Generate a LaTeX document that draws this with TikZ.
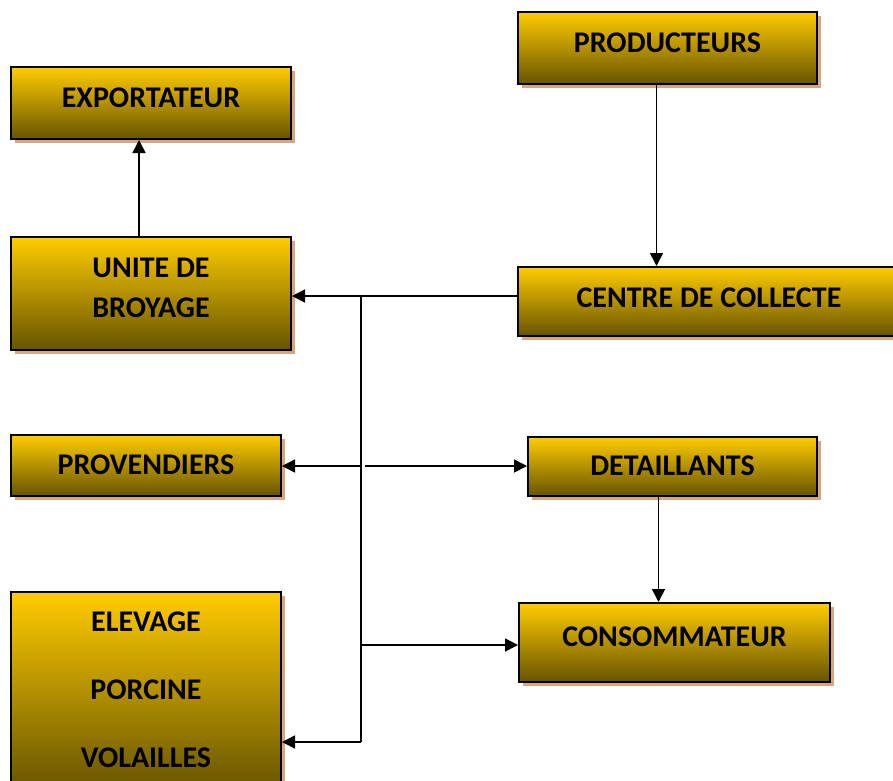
\documentclass[tikz,border=0pt]{standalone}
\usepackage{fontspec}
\setmainfont{Carlito}
\usepackage{tikz}
\usetikzlibrary{arrows.meta,shadows}

\definecolor{goldtop}{RGB}{255,204,0}
\definecolor{goldbot}{RGB}{102,84,0}
\definecolor{shadowtan}{RGB}{214,166,128}

\tikzset{
  box/.style={draw=black, line width=2pt, rectangle, align=center,
    top color=goldtop, bottom color=goldbot,
    font=\fontsize{30}{40}\selectfont\bfseries, inner sep=0pt, text depth=11pt,
    drop shadow={shadow xshift=4pt, shadow yshift=-4pt, opacity=1, fill=shadowtan}},
  arr/.style={line width=1.5pt, -{Triangle[length=13pt,width=13pt]}},
  link/.style={line width=1.5pt}
}

\begin{document}
\begin{tikzpicture}[x=1pt, y=-1pt]
\clip (0,0) rectangle (893,780);
\fill[white] (0,0) rectangle (893,780);
% boxes
\node[box, minimum width=299pt, minimum height=72pt] (prod) at (667.5,48) {PRODUCTEURS};
\node[box, minimum width=280pt, minimum height=72pt] (expo) at (151,103) {EXPORTATEUR};
\node[box, minimum width=280pt, minimum height=113pt] (unite) at (151,293.5) {UNITE DE\\BROYAGE};
\node[box, text depth=8pt, minimum width=382pt, minimum height=69pt] (centre) at (709,301.5) {CENTRE DE COLLECTE};
\node[box, text depth=2pt, minimum width=270pt, minimum height=61pt] (prov) at (146,465.5) {PROVENDIERS};
\node[box, text depth=2pt, minimum width=289pt, minimum height=59pt] (detail) at (672.5,466.5) {DETAILLANTS};
\node[box, minimum width=311pt, minimum height=79pt] (conso) at (674.5,642.5) {CONSOMMATEUR};
\node[box, text depth=2pt, minimum width=270pt, minimum height=198pt] (elev) at (146,691) {ELEVAGE\\[28pt]PORCINE\\[28pt]VOLAILLES};
% split points
\coordinate (top) at (361,296);
\coordinate (mid) at (361,466);
\coordinate (low) at (361,645);
\coordinate (bot) at (361,742);
% connectors
\draw[arr] ([xshift=-11pt]prod.south) -- ([xshift=-11pt]prod.south |- centre.north);
\draw[arr] ([xshift=-12pt]unite.north) -- ([xshift=-12pt]unite.north |- expo.south);
\draw[link] (centre.west |- top) -- (top);
\draw[arr] (top) -- (top -| unite.east);
\draw[link] (top) -- (bot);
\draw[arr] (mid) -- (mid -| prov.east);
\draw[arr] ([xshift=4pt]mid) -- (mid -| detail.west);
\draw[arr] (low) -- (low -| conso.west);
\draw[arr] (bot) -- (bot -| elev.east);
\draw[arr] ([xshift=-14pt]detail.south) -- ([xshift=-14pt]detail.south |- conso.north);
\end{tikzpicture}
\end{document}
